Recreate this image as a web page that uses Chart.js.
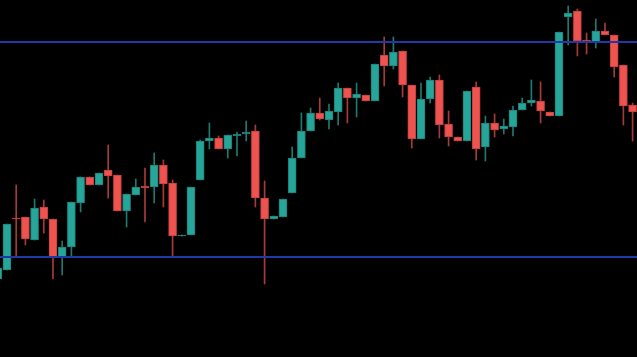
<!DOCTYPE html>
<html>
<head>
<meta charset="utf-8">
<title>Candles</title>
<script src="https://cdn.jsdelivr.net/npm/chart.js@4.4.1/dist/chart.umd.min.js"></script>
<style>
    html, body { margin: 0; padding: 0; background: #000; }
    #wrap { width: 637px; height: 357px; }
</style>
</head>
<body>
<div id="wrap"><canvas id="candleChart"></canvas></div>
<script>
// Candle data, one entry per bar
const openPrices  = [78, 87, 139, 140, 117, 150, 138, 100, 110, 154, 180, 172, 187, 182, 146, 162, 171, 170, 192, 174,
                     121, 122, 177, 216, 219, 208, 221, 223, 226, 159, 138, 140, 164, 199, 226, 244, 237, 245, 269, 259,
                     262, 256, 302, 291, 306, 272, 218, 258, 277, 233, 220, 216, 270, 210, 234, 228, 230, 247, 254, 256,
                     245, 241, 340, 346, 317, 315, 326, 322, 292, 252];
const highPrices  = [91, 133, 172, 140, 158, 157, 138, 116, 155, 180, 180, 184, 212, 182, 163, 178, 189, 204, 197, 177,
                     122, 170, 217, 234, 221, 222, 225, 236, 232, 176, 141, 158, 210, 244, 249, 259, 253, 274, 269, 274,
                     262, 293, 320, 320, 306, 272, 274, 280, 282, 246, 220, 266, 275, 241, 243, 238, 251, 259, 277, 275,
                     245, 325, 351, 348, 324, 338, 334, 322, 292, 254];
const lowPrices   = [76, 87, 100, 112, 117, 124, 78, 82, 100, 145, 172, 172, 159, 146, 130, 162, 135, 154, 150, 100,
                     121, 122, 177, 208, 208, 199, 201, 216, 150, 73, 138, 140, 164, 199, 226, 237, 228, 232, 234, 240,
                     256, 256, 271, 288, 260, 209, 218, 254, 219, 211, 216, 216, 197, 196, 220, 223, 221, 247, 251, 234,
                     241, 241, 312, 301, 303, 309, 322, 280, 232, 216];
const closePrices = [89, 133, 138, 118, 149, 138, 100, 110, 155, 180, 172, 184, 181, 146, 163, 170, 169, 192, 173, 121,
                     122, 170, 216, 219, 208, 222, 223, 225, 159, 138, 141, 158, 199, 226, 244, 238, 246, 269, 259, 263,
                     256, 293, 291, 305, 272, 218, 258, 277, 232, 220, 216, 266, 208, 234, 227, 231, 247, 254, 257, 246,
                     241, 325, 344, 316, 316, 326, 322, 290, 251, 245];
// Horizontal levels
const levelPrices = [315, 100];

// Visible window of the index axis
const xMin = 0.24;
const xMax = 69.48;

const upColor = '#26a69a';
const downColor = '#ef5350';
const upBorder = '#1d8178';
const downBorder = '#c2403e';
const upWick = '#1e7a71';
const downWick = '#a83a38';

function isUp(i) {
    return closePrices[i] >= openPrices[i];
}

// Bodies and wicks as floating bars
const bodies = openPrices.map((o, i) => ({ x: i, y: [o, closePrices[i]] }));
const wicks = openPrices.map((o, i) => ({ x: i, y: [lowPrices[i], highPrices[i]] }));

const levelSets = levelPrices.map(p => ({
    type: 'line',
    data: [{ x: xMin - 1, y: p }, { x: xMax + 1, y: p }],
    borderColor: '#1f3aa6',
    borderWidth: 2,
    pointRadius: 0,
    order: 0
}));

const ctx = document.getElementById('candleChart').getContext('2d');
new Chart(ctx, {
    type: 'bar',
    data: {
        datasets: [
            ...levelSets,
            {
                data: bodies,
                grouped: false,
                barThickness: 8,
                minBarLength: 1,
                borderWidth: 1,
                borderSkipped: false,
                backgroundColor: c => isUp(c.dataIndex) ? upColor : downColor,
                borderColor: c => isUp(c.dataIndex) ? upBorder : downBorder,
                order: 1
            },
            {
                data: wicks,
                grouped: false,
                barThickness: 1,
                borderWidth: 0,
                backgroundColor: c => isUp(c.dataIndex) ? upWick : downWick,
                order: 2
            }
        ]
    },
    options: {
        responsive: true,
        maintainAspectRatio: false,
        animation: false,
        layout: { padding: 0 },
        plugins: {
            legend: { display: false },
            tooltip: { enabled: false }
        },
        scales: {
            x: { type: 'linear', min: xMin, max: xMax, offset: false, display: false },
            y: { min: 0, max: 357, display: false }
        }
    }
});
</script>
</body>
</html>
